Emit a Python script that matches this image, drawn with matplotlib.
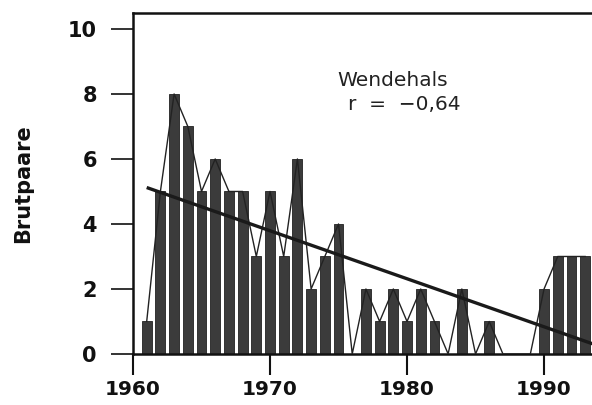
import numpy as np
import matplotlib
matplotlib.use("Agg")
import matplotlib.pyplot as plt

# Wryneck breeding pairs per year
years = list(range(1961, 1994))
pairs = [1, 5, 8, 7, 5, 6, 5, 5, 3, 5,
         3, 6, 2, 3, 4, 0, 2, 1, 2, 1,
         2, 1, 0, 2, 0, 1, 0, 0, 0, 2,
         3, 3, 3]
xticks = [1960, 1970, 1980, 1990]
yticks = [0, 2, 4, 6, 8, 10]
species = "Wendehals"
r_label = "r  =  \u22120,64"
ylabel = "Brutpaare"

plt.rcParams["font.family"] = ["DejaVu Sans"]

fig = plt.figure(figsize=(5.92, 4.05), dpi=100)
ax = fig.add_axes([133 / 592, 51 / 405, 1 - 133 / 592, (354 - 13) / 405])

x = np.array(years, dtype=float)
y = np.array(pairs, dtype=float)

ax.bar(x, y, width=0.72, color="#3b3b3b", edgecolor="#222222", linewidth=0.6, zorder=2)
ax.plot(x, y, color="#222222", linewidth=1.0, zorder=3)

# least-squares trend line
slope, intercept = np.polyfit(x, y, 1)
xt = np.array([x[0], 1994.0])
ax.plot(xt, slope * xt + intercept, color="#1a1a1a", linewidth=2.4, zorder=4,
        solid_capstyle="butt")

ax.set_xlim(1960, 1993.5)
ax.set_ylim(0, 10.49)
ax.set_xticks(xticks)
ax.set_yticks(yticks)
ax.set_xticklabels([str(t) for t in xticks], fontsize=14.5, fontweight="bold", color="#111111")
ax.set_yticklabels([str(t) for t in yticks], fontsize=15, fontweight="bold", color="#111111")
ax.tick_params(axis="x", direction="out", length=15, width=1.5, pad=4, color="#111111")
ax.tick_params(axis="y", direction="out", length=16, width=1.2, pad=10, color="#111111")

for side in ("left", "bottom", "top"):
    ax.spines[side].set_linewidth(1.8)
    ax.spines[side].set_color("#111111")
ax.spines["right"].set_visible(False)

fig.text(23 / 592, 1 - 184 / 405, ylabel, rotation=90, fontsize=15, fontweight="bold",
         ha="center", va="center", color="#111111")

ax.text(393, 405 - 80, species, transform=None, fontsize=14.5, ha="center", va="center",
        color="#222222")
ax.text(404, 405 - 105, r_label, transform=None, fontsize=14.5, ha="center", va="center",
        color="#222222")

fig.savefig("out.png", dpi=100, facecolor="white")
